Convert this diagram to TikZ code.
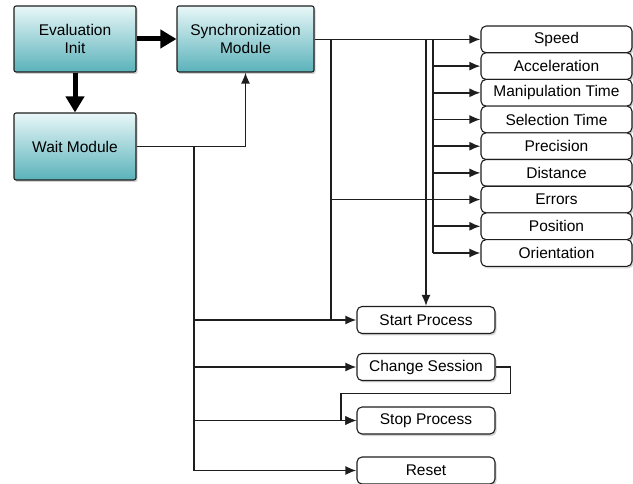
\documentclass[tikz,border=0pt]{standalone}
\usepackage{fontspec}
\setmainfont{Liberation Sans}
\usetikzlibrary{arrows.meta,shadows}
\definecolor{tealtop}{HTML}{E8F7F8}
\definecolor{tealbot}{HTML}{5AB2BA}
\definecolor{edge}{HTML}{1E1E1E}
\tikzset{
  modbox/.style={draw=edge, line width=1.1pt, rounded corners=2pt, top color=tealtop, bottom color=tealbot,
    inner sep=0pt, align=center, font=\fontsize{15.5}{18}\selectfont,
    drop shadow={shadow xshift=1.5pt, shadow yshift=-2pt, opacity=0.35}},
  outbox/.style={draw=edge, line width=1.1pt, rounded corners=5pt, fill=white, inner sep=0pt,
    minimum width=151pt, minimum height=26.7pt, font=\fontsize{15.5}{18}\selectfont,
    drop shadow={shadow xshift=1.5pt, shadow yshift=-2pt, opacity=0.35}},
  ctlbox/.style={outbox, minimum width=138pt, minimum height=27pt},
  conn/.style={draw=edge, line width=1.6pt, -{Latex[length=11pt,width=9pt]}},
  wire/.style={draw=edge, line width=1.6pt},
  thick arrow/.style={draw=black, line width=5pt, -{Triangle[length=16pt,width=18pt]}},
}
\begin{document}
\begin{tikzpicture}[x=1pt,y=-1pt]
\useasboundingbox (0,0) rectangle (633,484);
% modules
\node[modbox, minimum width=122pt, minimum height=66pt] (eval) at (75,39) {Evaluation\\Init};
\node[modbox, minimum width=137pt, minimum height=66pt] (sync) at (245.5,39) {Synchronization\\Module};
\node[modbox, minimum width=122pt, minimum height=67pt] (wait) at (75,146.5) {Wait Module};
% outputs
\node[outbox] (speed) at (556.5,39.4) {Speed};
\node[outbox] (acc) at (556.5,66.1) {Acceleration};
\node[outbox] (manip) at (556.5,92.8) {Manipulation Time};
\node[outbox] (sel) at (556.5,119.5) {Selection Time};
\node[outbox] (prec) at (556.5,146.2) {Precision};
\node[outbox] (dist) at (556.5,172.9) {Distance};
\node[outbox] (err) at (556.5,199.6) {Errors};
\node[outbox] (pos) at (556.5,226.3) {Position};
\node[outbox] (orient) at (556.5,253) {Orientation};
% control boxes
\node[ctlbox] (start) at (426,320) {Start Process};
\node[ctlbox] (change) at (426,367) {Change Session};
\node[ctlbox] (stop) at (426,420.5) {Stop Process};
\node[ctlbox] (reset) at (426,470.5) {Reset};
% junction coordinates
\coordinate (wj) at (194,146.5);
\coordinate (sa) at (331,39.4);
\coordinate (sb) at (426,39.4);
\coordinate (sc) at (433,39.4);
% thick arrows
\draw[thick arrow] (eval.east) -- (sync.west);
\draw[thick arrow] (eval.south) -- (wait.north);
% wait module connections
\draw[conn] (wait.east) -| (sync.south);
\draw[conn] (wj) |- (reset.west);
\draw[conn] (wj) |- (start.west);
\draw[conn] (wj) |- (change.west);
\draw[conn] (wj) |- (stop.west);
% sync outputs
\draw[conn] (sync.east |- speed.west) -- (speed.west);
\draw[wire] (sa) -- (sa |- start.west);
\draw[conn] (sa |- err.west) -- (err.west);
\draw[conn] (sb) -- (start.north);
\draw[wire] (sc) -- (sc |- orient.west);
\foreach \n in {acc,manip,sel,prec,dist,pos,orient}
  \draw[conn] (sc |- \n.west) -- (\n.west);
% change session -> stop process
\draw[conn] (change.east) -- ++(15,0) |- (341,393.5) |- (stop.west);
\end{tikzpicture}
\end{document}
